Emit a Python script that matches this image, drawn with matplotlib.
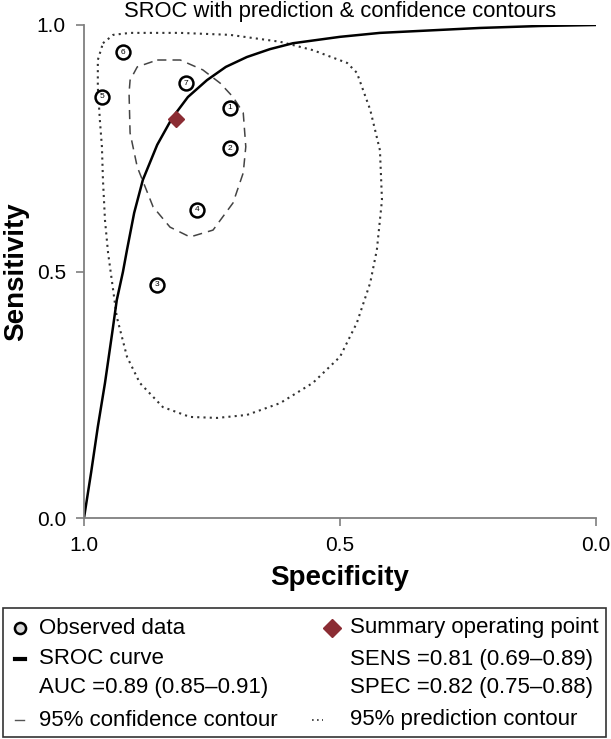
import matplotlib
matplotlib.use("Agg")
import matplotlib.pyplot as plt
from matplotlib.patches import Rectangle

plt.rcParams['font.family'] = ['Liberation Sans', 'DejaVu Sans']

# Observed studies (specificity, sensitivity)
study_ids = ['1', '2', '3', '4', '5', '6', '7']
study_spec = [0.715, 0.715, 0.857, 0.779, 0.965, 0.924, 0.801]
study_sens = [0.832, 0.750, 0.473, 0.625, 0.854, 0.945, 0.882]

# Summary operating point
summary_spec = 0.82
summary_sens = 0.81

# SROC curve
sroc_spec = [1.0, 0.986, 0.973, 0.959, 0.945, 0.936, 0.924, 0.916, 0.902, 0.885,
             0.857, 0.828, 0.797, 0.760, 0.723, 0.682, 0.637, 0.592, 0.500, 0.422,
             0.227, 0.109, 0.0]
sroc_sens = [0.0, 0.093, 0.185, 0.274, 0.375, 0.442, 0.499, 0.544, 0.619, 0.686,
             0.757, 0.811, 0.854, 0.888, 0.915, 0.935, 0.951, 0.963, 0.976, 0.984,
             0.994, 0.998, 1.0]

# 95% confidence contour
conf_spec = [0.857, 0.812, 0.768, 0.734, 0.709, 0.689, 0.684, 0.689, 0.709, 0.748,
             0.793, 0.832, 0.865, 0.896, 0.910, 0.912, 0.910, 0.896, 0.857]
conf_sens = [0.929, 0.929, 0.909, 0.882, 0.854, 0.822, 0.753, 0.700, 0.639, 0.584,
             0.570, 0.590, 0.631, 0.712, 0.781, 0.862, 0.888, 0.915, 0.929]

# 95% prediction contour
pred_spec = [0.963, 0.943, 0.910, 0.812, 0.715, 0.617, 0.553, 0.486, 0.467, 0.441,
             0.422, 0.418, 0.428, 0.441, 0.467, 0.500, 0.553, 0.617, 0.682, 0.740,
             0.793, 0.846, 0.891, 0.916, 0.936, 0.945, 0.953, 0.959, 0.963, 0.965,
             0.969, 0.973, 0.973, 0.963]
pred_sens = [0.963, 0.980, 0.984, 0.984, 0.980, 0.966, 0.949, 0.923, 0.903, 0.828,
             0.746, 0.645, 0.544, 0.477, 0.396, 0.327, 0.274, 0.233, 0.209, 0.203,
             0.205, 0.225, 0.274, 0.327, 0.408, 0.477, 0.538, 0.604, 0.686, 0.753,
             0.807, 0.874, 0.929, 0.963]

W, H = 611, 739
fig = plt.figure(figsize=(W / 100, H / 100), dpi=100)
ax = fig.add_axes([84 / W, (H - 518) / H, 512 / W, 493 / H])

gray = '#7f7f7f'
ax.plot(pred_spec, pred_sens, color='#333333', lw=1.5, linestyle=(0, (1, 2)))
ax.plot(conf_spec, conf_sens, color='#444444', lw=1.1, linestyle=(0, (6, 4)))
ax.plot(sroc_spec, sroc_sens, color='black', lw=1.8)

ax.plot(study_spec, study_sens, 'o', ms=10, mfc='white', mec='black', mew=1.8, zorder=4)
for sid, x, y in zip(study_ids, study_spec, study_sens):
    ax.text(x, y, sid, ha='center', va='center', fontsize=6, zorder=5)
ax.plot(summary_spec, summary_sens, 'D', ms=8, color='#8b2c33', zorder=6)

ax.set_xlim(1.0, 0.0)
ax.set_ylim(0.0, 1.0)
ax.set_xticks([1.0, 0.5, 0.0])
ax.set_yticks([0.0, 0.5, 1.0])
ax.set_xticklabels(['1.0', '0.5', '0.0'])
ax.set_yticklabels(['0.0', '0.5', '1.0'])
ax.tick_params(direction='out', length=5.5, width=1.2, color=gray, labelsize=15, pad=7.5)
for side in ['top', 'right']:
    ax.spines[side].set_visible(False)
for side in ['left', 'bottom']:
    ax.spines[side].set_color(gray)
    ax.spines[side].set_linewidth(1.3)

fig.text(340 / W, 1 - 11 / H, 'SROC with prediction & confidence contours',
         ha='center', va='center', fontsize=15.8)
fig.text(340 / W, 1 - 578 / H, 'Specificity', ha='center', va='center',
         fontsize=20, fontweight='bold')
fig.text(16 / W, 1 - 272 / H, 'Sensitivity', ha='center', va='center',
         fontsize=20, fontweight='bold', rotation=90)

# Legend box
lg = fig.add_axes([0, 0, 1, 1], zorder=-1)
lg.set_xlim(0, W)
lg.set_ylim(H, 0)
lg.axis('off')
lg.add_patch(Rectangle((3, 608), 603, 129, fill=False, ec='#333333', lw=1.2))

fs = 16
rows = [628, 659, 687, 720]
lg.plot(20, rows[0], 'o', ms=8, mfc='#d9d9d9', mec='black', mew=1.8)
lg.text(39, rows[0], 'Observed data', fontsize=fs, va='center')
lg.plot([15, 25], [rows[1], rows[1]], color='black', lw=3)
lg.text(39, rows[1], 'SROC curve', fontsize=fs, va='center')
lg.text(39, rows[2], 'AUC =0.89 (0.85\u20130.91)', fontsize=fs, va='center')
lg.plot([15, 24], [rows[3], rows[3]], color='#555555', lw=1)
lg.text(39, rows[3], '95% confidence contour', fontsize=fs, va='center')

lg.plot(332, rows[0], 'D', ms=9, color='#8b2c33')
lg.text(350, rows[0], 'Summary operating point', fontsize=fs, va='center')
lg.text(350, rows[1], 'SENS =0.81 (0.69\u20130.89)', fontsize=fs, va='center')
lg.text(350, rows[2], 'SPEC =0.82 (0.75\u20130.88)', fontsize=fs, va='center')
lg.plot([312, 323], [rows[3], rows[3]], color='#333333', lw=1.2, linestyle=(0, (1, 2)))
lg.text(350, rows[3], '95% prediction contour', fontsize=fs, va='center')

fig.savefig('out.png', dpi=100)
